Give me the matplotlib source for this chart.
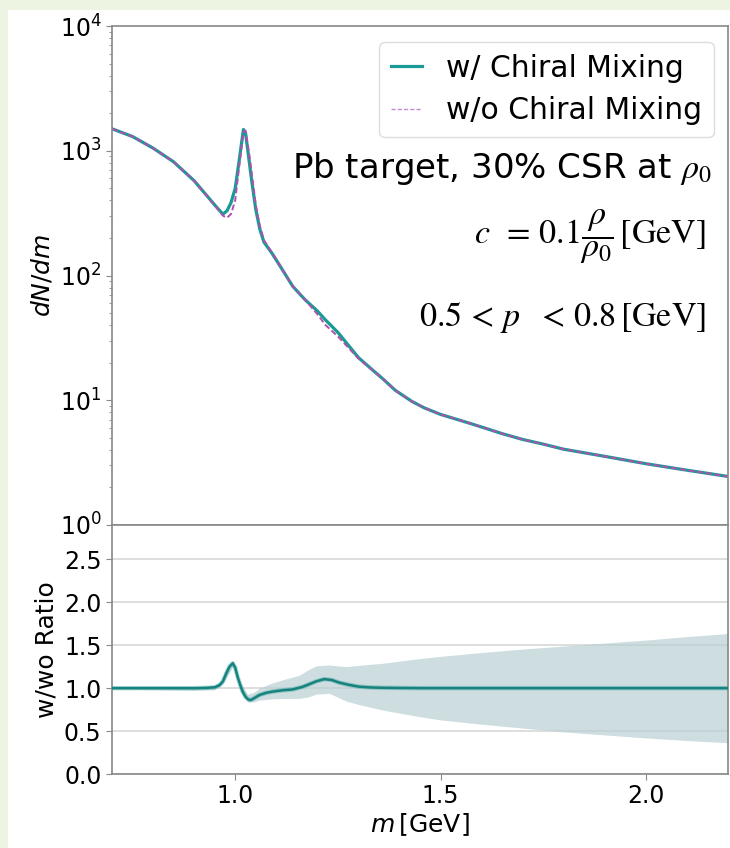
import matplotlib
matplotlib.use("Agg")
from matplotlib import pyplot as plt
from matplotlib.patches import Rectangle
import numpy as np

# dN/dm spectrum
m = [0.70, 0.75, 0.80, 0.85, 0.90, 0.93, 0.95, 0.97, 0.98, 0.99, 1.00, 1.01,
     1.02, 1.025, 1.03, 1.035, 1.04, 1.05, 1.06, 1.07, 1.09, 1.11, 1.14, 1.17,
     1.20, 1.22, 1.25, 1.30, 1.33, 1.36, 1.39, 1.43, 1.46, 1.50, 1.567, 1.60,
     1.65, 1.70, 1.75, 1.80, 1.90, 2.00, 2.10, 2.20]
dndm_w = [1500, 1300, 1050, 815, 575, 440, 368, 310, 330, 385, 500, 850,
          1480, 1400, 1050, 780, 580, 340, 235, 185, 150, 118, 82, 64,
          52, 44, 35, 22, 18, 14.8, 12, 9.8, 8.7, 7.7, 6.6, 6.1,
          5.4, 4.85, 4.45, 4.05, 3.55, 3.1, 2.75, 2.45]
dndm_wo = [1500, 1300, 1050, 815, 575, 440, 365, 302, 290, 312, 400, 760,
           1420, 1450, 1150, 900, 670, 370, 250, 192, 152, 119, 82, 64,
           49, 40, 32.5, 21.6, 17.9, 14.8, 12, 9.8, 8.7, 7.7, 6.6, 6.1,
           5.4, 4.85, 4.45, 4.05, 3.55, 3.1, 2.75, 2.45]

# w/wo ratio
ratio_m = [0.70, 0.80, 0.90, 0.93, 0.95, 0.962, 0.97, 0.978, 0.986, 0.994,
           1.000, 1.006, 1.012, 1.018, 1.025, 1.031, 1.037, 1.045, 1.059,
           1.075, 1.091, 1.115, 1.14, 1.164, 1.18, 1.198, 1.217, 1.235, 1.253,
           1.275, 1.302, 1.33, 1.36, 1.40, 1.45, 1.50, 1.60, 1.80, 2.00, 2.20]
ratio = [1.0, 1.0, 1.0, 1.003, 1.01, 1.035, 1.08, 1.17, 1.25, 1.29,
         1.24, 1.13, 1.04, 0.96, 0.90, 0.87, 0.86, 0.88, 0.92,
         0.945, 0.96, 0.975, 0.985, 1.015, 1.045, 1.08, 1.105, 1.095, 1.065,
         1.04, 1.017, 1.008, 1.004, 1.002, 1.0, 1.0, 1.0, 1.0, 1.0, 1.0]

# uncertainty band of the ratio
band_m = [0.70, 0.90, 0.95, 0.97, 0.994, 1.012, 1.03, 1.045, 1.059, 1.09,
          1.125, 1.156, 1.18, 1.197, 1.229, 1.27, 1.30, 1.36, 1.45, 1.50,
          1.60, 1.70, 1.80, 1.90, 2.00, 2.10, 2.20]
band_hi = [1.01, 1.015, 1.03, 1.10, 1.32, 1.07, 0.93, 0.95, 1.00, 1.06,
           1.11, 1.15, 1.22, 1.26, 1.27, 1.25, 1.265, 1.29, 1.345, 1.37,
           1.415, 1.455, 1.49, 1.525, 1.56, 1.60, 1.636]
band_lo = [0.99, 0.975, 0.98, 1.05, 1.25, 1.00, 0.84, 0.84, 0.86, 0.875,
           0.88, 0.88, 0.90, 0.93, 0.94, 0.85, 0.81, 0.744, 0.667, 0.63,
           0.58, 0.535, 0.49, 0.455, 0.42, 0.39, 0.364]

teal = "#1a9a94"
purple = "#b04fb0"
fs = 17

plt.rcParams["font.family"] = ["DejaVu Sans"]

fig = plt.figure(figsize=(7.3, 8.48), dpi=100, facecolor="#eef4e2")
bg = Rectangle((8 / 730, 0), 1, 1 - 10 / 848, transform=fig.transFigure,
               facecolor="white", edgecolor="none", zorder=-10)
fig.patches.append(bg)

ax = fig.add_axes([112 / 730, (848 - 525) / 848, 616 / 730, 499 / 848])
ax2 = fig.add_axes([112 / 730, (848 - 774) / 848, 616 / 730, 249 / 848], sharex=ax)

ax.plot(m, dndm_w, color=teal, lw=2.3, label="w/ Chiral Mixing")
ax.plot(m, dndm_wo, color=purple, lw=1.4, ls="--", dashes=(3, 1.5), label="w/o Chiral Mixing")
ax.set_yscale("log")
ax.set_ylim(1, 1e4)
ax.set_xlim(0.7, 2.2)
ax.set_ylabel("$dN/dm$", fontsize=fs + 1)
ax.tick_params(axis="x", which="both", bottom=False, labelbottom=False)
ax.tick_params(axis="y", which="major", labelsize=fs, length=4, color="#888888")
ax.tick_params(axis="y", which="minor", length=2.5, color="#888888")

leg = ax.legend(loc="upper right", bbox_to_anchor=(0.977, 0.968), borderaxespad=0,
                fontsize=21.5, handlelength=1.05, handletextpad=0.8,
                labelspacing=0.45, borderpad=0.4, framealpha=1, edgecolor="#dddddd")
leg.get_frame().set_linewidth(1.0)
leg.get_lines()[1].set_linewidth(1.0)
leg.get_lines()[1].set_color("#c58ad6")

ax.text(0.974, 0.695, r"Pb target, 30% CSR at $\rho_0$", transform=ax.transAxes,
        ha="right", va="baseline", fontsize=24.5, math_fontfamily="stix")
ax.text(0.964, 0.577, r"$c\ \,=\, 0.1\dfrac{\rho}{\rho_0}\,[\mathrm{GeV}]$", transform=ax.transAxes,
        ha="right", va="center", fontsize=24.5, math_fontfamily="stix")
ax.text(0.964, 0.415, r"$0.5\,<\,p\ \ <\,0.8\,[\mathrm{GeV}]$", transform=ax.transAxes,
        ha="right", va="center", fontsize=24.5, math_fontfamily="stix")

ax2.fill_between(band_m, band_lo, band_hi, color="#b9cfd3", alpha=0.7, lw=0, zorder=2)
ax2.plot(ratio_m, ratio, color=teal, lw=3.2, alpha=0.35, zorder=3)
ax2.plot(ratio_m, ratio, color="#17827e", lw=1.8, zorder=4)
ax2.set_ylim(0, 2.9)
ax2.set_yticks([0.0, 0.5, 1.0, 1.5, 2.0, 2.5])
ax2.set_xticks([1.0, 1.5, 2.0])
ax2.grid(axis="y", color="#d8d8d8", lw=1.2, zorder=1)
ax2.set_axisbelow(True)
ax2.set_ylabel("w/wo Ratio", fontsize=fs + 1)
ax2.set_xlabel(r"$m\,$[GeV]", fontsize=fs + 1, labelpad=2)
ax2.tick_params(labelsize=fs, length=4, color="#888888")

for a in (ax, ax2):
    for s in a.spines.values():
        s.set_color("#888888")
        s.set_linewidth(1.2)

fig.align_ylabels([ax, ax2])
fig.savefig("out.png", dpi=100, facecolor=fig.get_facecolor())
